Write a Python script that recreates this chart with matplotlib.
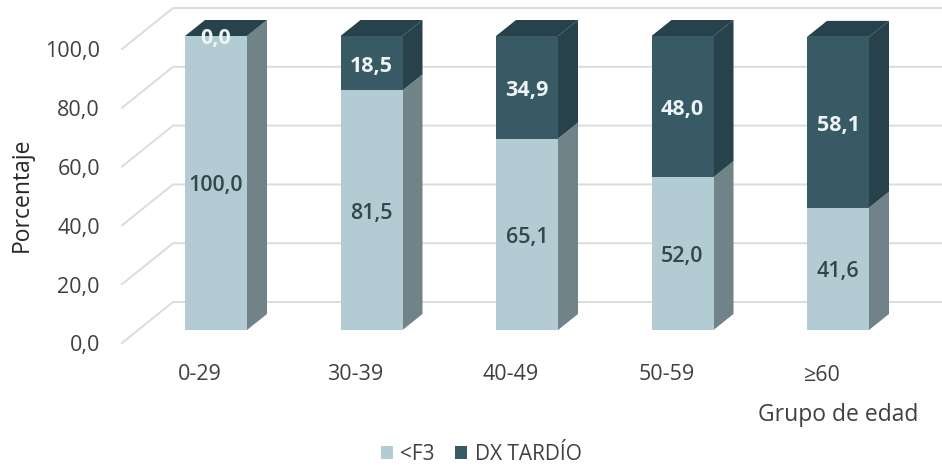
import matplotlib
matplotlib.use("Agg")
from matplotlib import pyplot as plt
from matplotlib.patches import Polygon
import numpy as np

plt.rcParams['font.family'] = ['Open Sans', 'DejaVu Sans']

grupos = ["0-29", "30-39", "40-49", "50-59", "≥60"]
f3 = [100.0, 81.5, 65.1, 52.0, 41.6]
dx_tardio = [0.0, 18.5, 34.9, 48.0, 58.1]
y_ticks = [0, 20, 40, 60, 80, 100]

light = "#b3ccd3"
light_side = "#6f8388"
dark = "#385a64"
dark_side = "#27424a"
grid_col = "#dcdcdc"
text_col = "#404040"

# pixel scale of the original picture
px_x = 155.5   # pixels per category
px_y = 2.94    # pixels per percent
W, H = 942, 466
x0_px, y0_px = 216, 330

fig = plt.figure(figsize=(W / 100, H / 100), dpi=100)
ax = fig.add_axes([0, 0, 1, 1])
ax.set_xlim(-x0_px / px_x, (W - x0_px) / px_x)
ax.set_ylim(-(H - y0_px) / px_y, y0_px / px_y)
ax.axis("off")

def xp(px):
    return (px - x0_px) / px_x

def yp(px):
    return (y0_px - px) / px_y

bar_w = 62 / px_x
depth_x = 20 / px_x
depth_y = 16 / px_y
nudge = 3 / px_y  # text sits a little lower than its anchor

# walls and floor lines
for t in y_ticks:
    y_front = t + yp(343)
    y_back = t + yp(302)
    ax.plot([xp(122), xp(173), xp(W)], [y_front, y_back, y_back], color=grid_col, lw=1.4, zorder=1)
    ax.text(xp(100), y_front - nudge, "{:.1f}".format(t).replace(".", ","), ha="right", va="center",
            fontsize=15.5, color=text_col)

x = np.arange(len(grupos))
bars_a = ax.bar(x, f3, bar_w, color=light, label="<F3", zorder=3)
bars_b = ax.bar(x, dx_tardio, bar_w, bottom=f3, color=dark, label="DX TARDÍO", zorder=3)

# side and top faces of the 3D bars
for i in x:
    r = i + bar_w / 2
    l = i - bar_w / 2
    total = f3[i] + dx_tardio[i]
    ax.add_patch(Polygon([[r, 0], [r + depth_x, depth_y], [r + depth_x, f3[i] + depth_y], [r, f3[i]]],
                         color=light_side, lw=0, zorder=2))
    ax.add_patch(Polygon([[r, f3[i]], [r + depth_x, f3[i] + depth_y], [r + depth_x, total + depth_y], [r, total]],
                         color=dark_side, lw=0, zorder=2))
    ax.add_patch(Polygon([[l, total], [l + depth_x, total + depth_y], [r + depth_x, total + depth_y], [r, total]],
                         color=dark_side, lw=0, zorder=2))

    ax.text(i, f3[i] / 2 - nudge, "{:.1f}".format(f3[i]).replace(".", ","), ha="center", va="center",
            fontsize=15.5, fontweight="semibold", color="#33474d", zorder=5)
    ax.text(i, f3[i] + dx_tardio[i] / 2 - nudge, "{:.1f}".format(dx_tardio[i]).replace(".", ","), ha="center", va="center",
            fontsize=15.5, fontweight="bold", color="#eef4f6", zorder=5)
    ax.text(i - 16 / px_x, yp(375), grupos[i], ha="center", va="center", fontsize=15.5, color=text_col)

ax.text(xp(22), yp(195), "Porcentaje", rotation=90, ha="center", va="center", fontsize=16.5, color="#262626")
ax.text(xp(838), yp(415), "Grupo de edad", ha="center", va="center", fontsize=16.5, color=text_col)

ax.legend(handles=[bars_a, bars_b], ncol=2, frameon=False, loc="center", bbox_to_anchor=(481 / W, 1 - 454 / H),
          fontsize=15, handlelength=0.58, handleheight=0.58, handletextpad=0.35, columnspacing=1.0,
          labelcolor=text_col, borderpad=0)

fig.savefig("out.png", dpi=100)
